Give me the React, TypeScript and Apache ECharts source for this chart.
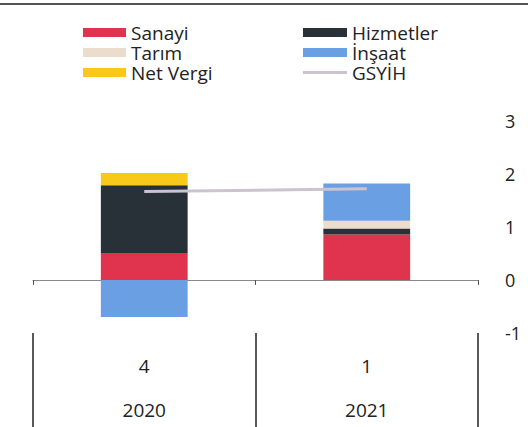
import React, { useEffect, useRef } from "react";
import * as echarts from "echarts";

const quarters = ["4", "1"];
const years = ["2020", "2021"];
const sanayi = [0.51, 0.86];
const hizmetler = [1.28, 0.11];
const tarim = [0, 0.15];
const insaat = [-0.7, 0.7];
const netVergi = [0.23, 0];
const gsyih = [1.67, 1.72];
const yTicks = { min: -1, max: 3, interval: 1 };

const FONT = "Open Sans";

export default function App() {
  const ref = useRef<HTMLDivElement>(null);
  useEffect(() => {
    if (!ref.current) return;
    const chart = echarts.init(ref.current, undefined, { renderer: "svg" });
    const barCommon = {
      type: "bar" as const,
      stack: "total",
      barWidth: "39%",
    };
    const legendText = { fontSize: 19, color: "#222", fontFamily: FONT, lineHeight: 20 };
    chart.setOption({
      animation: false,
      textStyle: { fontFamily: FONT },
      graphic: [
        {
          type: "line",
          shape: { x1: 0, y1: 4, x2: 528, y2: 4 },
          style: { stroke: "#555", lineWidth: 2 },
        },
      ],
      legend: [
        {
          data: ["Sanayi", "Tarım", "Net Vergi"],
          orient: "vertical",
          left: 83,
          top: 22.5,
          padding: 0,
          icon: "rect",
          itemWidth: 43,
          itemHeight: 9,
          itemGap: 0,
          textStyle: legendText,
        },
        {
          data: ["Hizmetler", "İnşaat"],
          orient: "vertical",
          left: 303,
          top: 22.5,
          padding: 0,
          icon: "rect",
          itemWidth: 44,
          itemHeight: 9,
          itemGap: 0,
          textStyle: legendText,
        },
        {
          data: ["GSYİH"],
          orient: "vertical",
          left: 303,
          top: 62.5,
          padding: 0,
          icon: "rect",
          itemWidth: 44,
          itemHeight: 3,
          itemGap: 0,
          textStyle: legendText,
        },
      ],
      grid: { left: 33, right: 50, top: 121, bottom: 94, containLabel: false, outerBoundsMode: "none" },
      xAxis: [
        {
          type: "category",
          data: quarters,
          boundaryGap: true,
          axisLine: { onZero: true, lineStyle: { color: "#888", width: 1 } },
          axisTick: { show: true, interval: 0, length: 5, lineStyle: { color: "#555" } },
          axisLabel: { show: false },
        },
        {
          type: "category",
          data: quarters,
          position: "bottom",
          boundaryGap: true,
          axisLine: { show: false, onZero: false },
          axisTick: {
            show: true,
            interval: 0,
            length: 94,
            lineStyle: { color: "#222", width: 1.5 },
          },
          axisLabel: {
            interval: 0,
            margin: 11,
            fontSize: 19,
            color: "#222",
            lineHeight: 44,
            fontFamily: FONT,
            formatter: (v: string, i: number) => v + "\n" + years[i],
          },
        },
      ],
      yAxis: {
        type: "value",
        position: "right",
        min: yTicks.min,
        max: yTicks.max,
        interval: yTicks.interval,
        splitLine: { show: false },
        axisLine: { show: false },
        axisTick: { show: false },
        axisLabel: {
          margin: 27,
          fontSize: 18,
          color: "#222",
          fontFamily: FONT,
          align: "left",
        },
      },
      series: [
        { ...barCommon, name: "Sanayi", data: sanayi, itemStyle: { color: "#e0344e" } },
        { ...barCommon, name: "Hizmetler", data: hizmetler, itemStyle: { color: "#283138" } },
        { ...barCommon, name: "Tarım", data: tarim, itemStyle: { color: "#ecdccb" } },
        { ...barCommon, name: "İnşaat", data: insaat, itemStyle: { color: "#6a9fe3" } },
        { ...barCommon, name: "Net Vergi", data: netVergi, itemStyle: { color: "#f7c91a" } },
        {
          type: "line",
          name: "GSYİH",
          data: gsyih,
          symbol: "none",
          z: 5,
          lineStyle: { color: "#cbc3cf", width: 3 },
          itemStyle: { color: "#cbc3cf" },
        },
      ],
    });
    return () => chart.dispose();
  }, []);
  return <div ref={ref} style={{ width: 528, height: 427, position: "absolute", left: 0, top: 0 }} />;
}
